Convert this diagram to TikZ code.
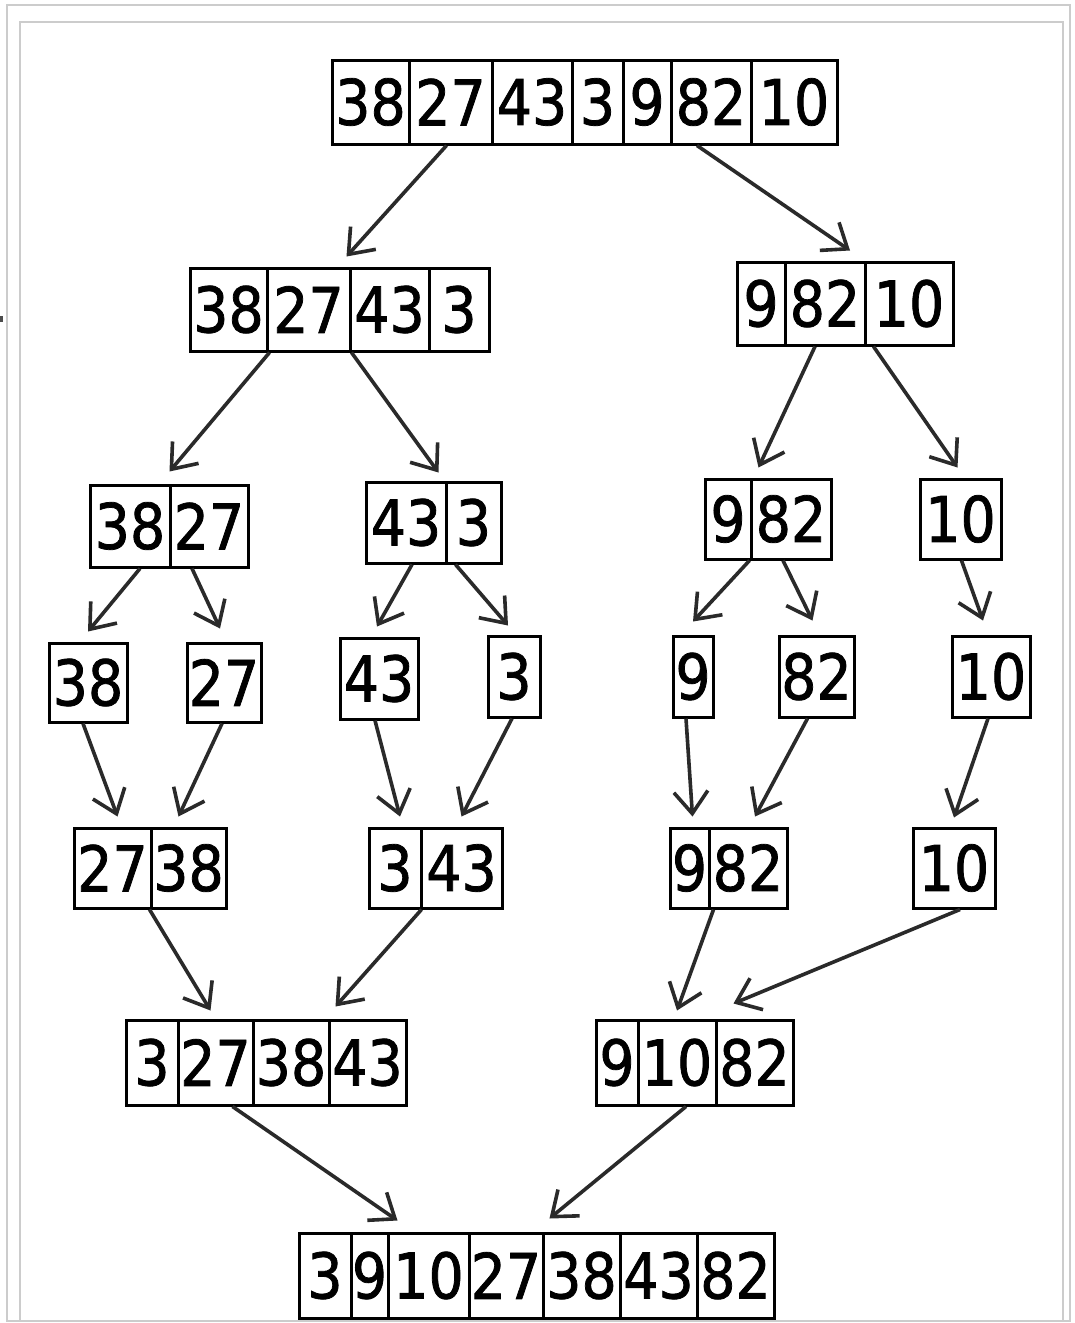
\documentclass[tikz,border=0pt]{standalone}
\usepackage{fontspec}
\newfontfamily\numfont{DejaVu Sans}[FakeStretch=0.88,FakeBold=1.2]
\usetikzlibrary{arrows.meta}
\definecolor{arrowc}{HTML}{2A2A2A}
\definecolor{framec}{HTML}{CCCCCC}
\newcommand\mkcells[4]{%
  \foreach \xa/\xb/\txt [count=\ci] in {#4}{%
    \node[cell, minimum width={(\xb-\xa)*1pt}, minimum height={(#3-#2)*1pt}] (#1-\ci) at ({(\xa+\xb)/2},{(#2+#3)/2}) {\txt};
  }%
}
\tikzset{
  cell/.style={draw=black, line width=3pt, inner sep=0pt, font=\numfont\fontsize{63}{63}\selectfont, text=black},
  arr/.style={draw=arrowc, line width=3.6pt, -{Straight Barb[length=22pt,width=34pt]}},
  framel/.style={draw=framec, line width=2pt}
}
\begin{document}
\begin{tikzpicture}[x=1pt,y=-1pt]
\useasboundingbox[fill=white] (0,0) rectangle (1074,1323);
% frame
\draw[framel] (7,1321) -- (7,5) -- (1070,5) -- (1070,1321) -- cycle;
\draw[framel] (20,1321) -- (20,22) -- (1063,22) -- (1063,1321);
\fill[black!70] (0,316) rectangle (3,322);
% arrays
\mkcells{t}{60}{144}{332/409/38,409/492/27,492/572/43,572/623/3,623/671/9,671/751/82,751/837/10}
\mkcells{a}{268}{351}{190/267/38,267/350/27,350/429/43,429/489/3}
\mkcells{b}{262}{345}{737/785/9,785/865/82,865/953/10}
\mkcells{c}{485}{567}{90/170/38,170/248/27}
\mkcells{d}{482}{563}{366/446/43,446/501/3}
\mkcells{e}{479}{559}{705/751/9,751/831/82}
\mkcells{f}{479}{559}{920/1001/10}
\mkcells{g}{643}{722}{49/127/38}
\mkcells{h}{643}{722}{187/261/27}
\mkcells{i}{638}{719}{340/418/43}
\mkcells{j}{636}{717}{488/540/3}
\mkcells{k}{636}{717}{673/713/9}
\mkcells{l}{636}{717}{779/854/82}
\mkcells{m}{636}{717}{952/1030/10}
\mkcells{n}{828}{908}{74/151/27,151/226/38}
\mkcells{o}{828}{908}{369/421/3,421/502/43}
\mkcells{p}{828}{908}{670/709/9,709/787/82}
\mkcells{q}{828}{908}{913/995/10}
\mkcells{r}{1020}{1105}{126/178/3,178/253/27,253/329/38,329/406/43}
\mkcells{s}{1020}{1105}{596/638/9,638/716/10,716/793/82}
\mkcells{u}{1233}{1318}{299/351/3,351/388/9,388/469/10,469/543/27,543/620/38,620/697/43,697/774/82}
% arrows
\draw[arr] ([xshift=-4pt]t-2.south) -- ([xshift=-5pt,yshift=10pt]a-2.north east);
\draw[arr] ([xshift=-14pt]t-6.south) -- ([xshift=25pt,yshift=10pt]b-2.north);
\draw[arr] ([xshift=1pt]a-1.south east) -- ([xshift=-2pt,yshift=12pt]c-1.north east);
\draw[arr] (a-2.south east) -- ([xshift=-9pt,yshift=8pt]d-1.north east);
\draw[arr] ([xshift=-10pt]b-2.south) -- ([xshift=6pt,yshift=10pt]e-1.north east);
\draw[arr] ([xshift=10pt]b-3.south west) -- ([xshift=-3pt,yshift=10pt]f-1.north);
\draw[arr] ([xshift=10pt]c-1.south) -- ([yshift=10pt]g-1.north);
\draw[arr] ([xshift=-17pt]c-2.south) -- ([xshift=-4pt,yshift=13pt]h-1.north);
\draw[arr] ([xshift=6pt]d-1.south) -- ([xshift=-2pt,yshift=10pt]i-1.north);
\draw[arr] ([xshift=-18pt]d-2.south) -- ([xshift=-6pt,yshift=9pt]j-1.north);
\draw[arr] ([xshift=-3pt]e-1.south east) -- ([yshift=13pt]k-1.north);
\draw[arr] ([xshift=-8pt]e-2.south) -- ([xshift=-4pt,yshift=14pt]l-1.north);
\draw[arr] ([xshift=1pt]f-1.south) -- ([xshift=-8pt,yshift=14pt]m-1.north);
\draw[arr] ([xshift=-5pt]g-1.south) -- ([xshift=5pt,yshift=10pt]n-1.north);
\draw[arr] ([xshift=-2pt]h-1.south) -- ([xshift=-10pt,yshift=10pt]n-2.north);
\draw[arr] ([xshift=-4pt]i-1.south) -- ([xshift=5pt,yshift=10pt]o-1.north);
\draw[arr] ([xshift=-2pt]j-1.south) -- ([yshift=10pt]o-2.north);
\draw[arr] ([xshift=-7pt]k-1.south) -- ([xshift=3pt,yshift=10pt]p-1.north);
\draw[arr] ([xshift=-9pt]l-1.south) -- ([xshift=7pt,yshift=10pt]p-2.north);
\draw[arr] ([xshift=-3pt]m-1.south) -- ([yshift=9pt]q-1.north);
\draw[arr] ([xshift=-3pt]n-1.south east) -- ([xshift=-5pt,yshift=8pt]r-2.north);
\draw[arr] ([xshift=2pt]o-2.south west) -- ([xshift=8pt,yshift=12pt]r-4.north west);
\draw[arr] ([xshift=6pt]p-2.south west) -- ([yshift=8pt]s-2.north);
\draw[arr] ([xshift=6pt]q-1.south) -- ([xshift=19pt,yshift=15pt]s-3.north west);
\draw[arr] ([xshift=17pt]r-2.south) -- ([xshift=8pt,yshift=11pt]u-2.north east);
\draw[arr] ([xshift=9pt]s-2.south) -- ([xshift=8pt,yshift=13pt]u-5.north west);
\end{tikzpicture}
\end{document}
